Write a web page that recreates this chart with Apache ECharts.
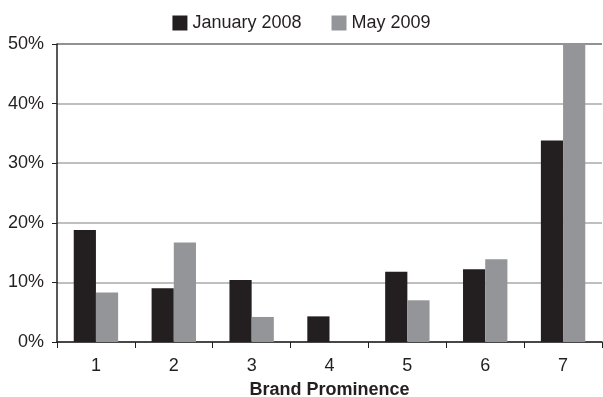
<!DOCTYPE html>
<html>
<head>
<meta charset="utf-8">
<script src="https://cdn.jsdelivr.net/npm/echarts@6/dist/echarts.min.js"></script>
<style>
	html,body{margin:0;padding:0;background:#fff;}
	#chart{width:603px;height:397px;}
</style>
</head>
<body>
<div id="chart"></div>
<script>
var categories = ['1','2','3','4','5','6','7'];
var jan2008 = [18.8, 9.0, 10.4, 4.3, 11.8, 12.2, 33.8];
var may2009 = [8.3, 16.7, 4.2, 0, 7.0, 13.9, 50];
var yTicks = [0, 10, 20, 30, 40, 50];

var myChart = echarts.init(document.getElementById('chart'));
var option = {
	textStyle: {fontFamily: 'Liberation Sans, Arial, sans-serif'},
	animation: false,
	legend: {
		top: 9,
		left: 'center',
		icon: 'rect',
		itemWidth: 15,
		itemHeight: 15,
		itemGap: 30,
		textStyle: {fontSize: 18, color: '#231f20'},
		data: ['January 2008', 'May 2009']
	},
	grid: {left: 57, right: 1, top: 44, bottom: 55, outerBoundsMode: 'none'},
	xAxis: {
		type: 'category',
		data: categories,
		name: 'Brand Prominence',
		nameLocation: 'middle',
		nameGap: 39,
		nameTextStyle: {fontSize: 18, fontWeight: 'bold', color: '#231f20'},
		axisLine: {lineStyle: {color: '#231f20', width: 1.5}},
		axisTick: {show: true, length: 6, lineStyle: {color: '#231f20'}},
		axisLabel: {fontSize: 18, color: '#231f20', margin: 15}
	},
	yAxis: {
		type: 'value',
		min: yTicks[0],
		max: yTicks[yTicks.length - 1],
		interval: 10,
		axisLine: {show: true, lineStyle: {color: '#231f20', width: 1.5}},
		axisTick: {show: true, length: 5, lineStyle: {color: '#231f20'}},
		axisLabel: {fontSize: 18, color: '#231f20', margin: 13, formatter: '{value}%'},
		splitLine: {lineStyle: {color: ['#aaaaaa','#aaaaaa','#aaaaaa','#aaaaaa','#aaaaaa','#6d6e70'], width: 1.5}}
	},
	series: [
		{
			name: 'January 2008',
			type: 'bar',
			data: jan2008,
			barGap: '0%',
			barCategoryGap: '43%',
			itemStyle: {color: '#231f20'}
		},
		{
			name: 'May 2009',
			type: 'bar',
			data: may2009,
			itemStyle: {color: '#939598'}
		}
	]
};
myChart.setOption(option);
</script>
</body>
</html>
